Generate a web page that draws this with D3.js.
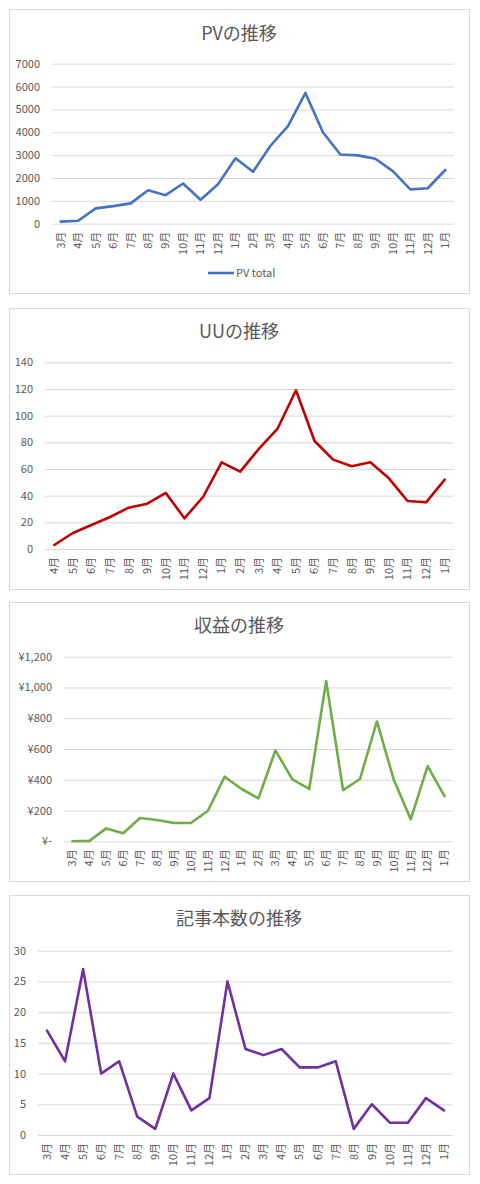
<!DOCTYPE html>
<meta charset="utf-8">
<head>
<style>
    body {margin: 0; background: #fff;}
    .chart text {font-family: "Noto Sans CJK JP", "Noto Sans", sans-serif; fill: #595959;}
    .grid line {stroke: #d9d9d9; stroke-width: 1;}
    .grid .domain {display: none;}
    .xaxis .domain, .xaxis line {display: none;}
</style>
</head>
<body>
<div class="chart"></div>
</body>
<script src="https://d3js.org/d3.v7.min.js"></script>
<script>
// month labels
var months3to1 = ["3月","4月","5月","6月","7月","8月","9月","10月","11月","12月","1月","2月","3月","4月","5月","6月","7月","8月","9月","10月","11月","12月","1月"];
var months4to1 = ["4月","5月","6月","7月","8月","9月","10月","11月","12月","1月","2月","3月","4月","5月","6月","7月","8月","9月","10月","11月","12月","1月"];

// series values
var pvTotal = [90,130,670,770,890,1460,1250,1760,1050,1730,2860,2270,3410,4270,5720,4000,3030,2990,2840,2300,1500,1550,2350];
var uuValues = [3,12,18,24,31,34,42,23,39,65,58,75,90,119,81,67,62,65,53,36,35,52];
var revenue = [0,3,84,52,152,139,119,119,197,420,340,279,591,403,340,1042,333,405,779,400,143,489,294];
var articles = [17,12,27,10,12,3,1,10,4,6,25,14,13,14,11,11,12,1,5,2,2,6,4];

// y tick values
var pvTicks = [0,1000,2000,3000,4000,5000,6000,7000];
var uuTicks = [0,20,40,60,80,100,120,140];
var revenueTicks = [0,200,400,600,800,1000,1200];
var articleTicks = [0,5,10,15,20,25,30];

var W = 480, H = 1184;

var svg = d3.select(".chart").append("svg")
    .attr("width", W)
    .attr("height", H);

var yen = function (v) {
    return v === 0 ? "¥-" : "¥" + d3.format(",")(v);
};

var charts = [
    {title: "PVの推移", labels: months3to1, values: pvTotal, ticks: pvTicks, color: "#4472c4",
     box: [9, 9, 460, 284], plot: [52, 63.7, 454, 223.7], titleY: 40, legend: "PV total", legendY: 273},
    {title: "UUの推移", labels: months4to1, values: uuValues, ticks: uuTicks, color: "#c00000",
     box: [9, 308, 460, 281], plot: [45, 362.3, 454, 549], titleY: 338},
    {title: "収益の推移", labels: months3to1, values: revenue, ticks: revenueTicks, color: "#70ad47",
     box: [9, 602, 460, 279], plot: [64, 656.7, 453, 841.3], titleY: 632, fmt: yen},
    {title: "記事本数の推移", labels: months3to1, values: articles, ticks: articleTicks, color: "#7030a0",
     box: [9, 895, 460, 279], plot: [38, 950.7, 453, 1135], titleY: 925}
];

charts.forEach(draw_chart);

function draw_chart(c) {
    var g = svg.append("g");

    g.append("rect")
        .attr("x", c.box[0] + 0.5)
        .attr("y", c.box[1] + 0.5)
        .attr("width", c.box[2])
        .attr("height", c.box[3])
        .attr("fill", "#fff")
        .attr("stroke", "#d9d9d9");

    g.append("text")
        .attr("x", 239)
        .attr("y", c.titleY)
        .attr("text-anchor", "middle")
        .style("font-size", "18px")
        .text(c.title);

    var x = d3.scaleBand()
        .domain(d3.range(c.labels.length))
        .range([c.plot[0], c.plot[2]]);
    var y = d3.scaleLinear()
        .domain([c.ticks[0], c.ticks[c.ticks.length - 1]])
        .range([c.plot[3], c.plot[1]]);

    var gy = g.append("g")
        .attr("class", "grid")
        .attr("transform", "translate(" + c.plot[0] + ",0)")
        .call(d3.axisLeft(y)
            .tickValues(c.ticks)
            .tickSize(-(c.plot[2] - c.plot[0]))
            .tickPadding(12)
            .tickFormat(c.fmt || d3.format("")));
    gy.selectAll("text").style("font-size", "11px");

    var gx = g.append("g")
        .attr("class", "xaxis")
        .attr("transform", "translate(0," + c.plot[3] + ")")
        .call(d3.axisBottom(x)
            .tickSize(0)
            .tickFormat(function (i) { return c.labels[i]; }));
    gx.selectAll("text")
        .style("font-size", "11px")
        .attr("text-anchor", "end")
        .attr("dy", "0.35em")
        .attr("transform", "translate(0,8) rotate(-90)")
        .attr("x", 0)
        .attr("y", 0);

    var line = d3.line()
        .x(function (d, i) { return x(i) + x.bandwidth() / 2; })
        .y(function (d) { return y(d); });

    g.append("path")
        .datum(c.values)
        .attr("fill", "none")
        .attr("stroke", c.color)
        .attr("stroke-width", 2.6)
        .attr("stroke-linejoin", "round")
        .attr("stroke-linecap", "round")
        .attr("d", line);

    if (c.legend) {
        g.append("line")
            .attr("x1", 208).attr("x2", 234)
            .attr("y1", c.legendY).attr("y2", c.legendY)
            .attr("stroke", c.color)
            .attr("stroke-width", 2.6);
        g.append("text")
            .attr("x", 236)
            .attr("y", c.legendY)
            .attr("dy", "0.35em")
            .style("font-size", "11px")
            .text(c.legend);
    }
}
</script>
</body>
